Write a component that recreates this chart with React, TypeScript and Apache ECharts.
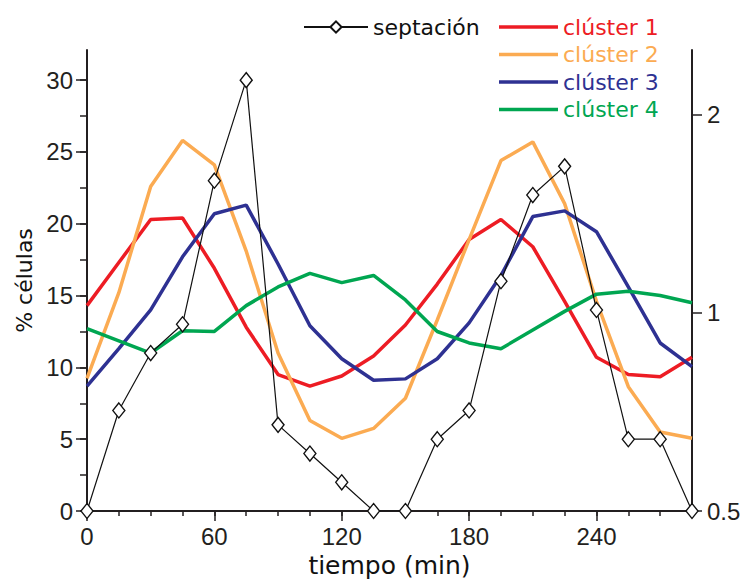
import React, { useEffect, useRef } from "react";
import * as echarts from "echarts";

// time in minutes
const times = [0, 15, 30, 45, 60, 75, 90, 105, 120, 135, 150, 165, 180, 195, 210, 225, 240, 255, 270, 285];

// % células con septación
const septacion = [0, 7, 11, 13, 23, 30, 6, 4, 2, 0, 0, 5, 7, 16, 22, 24, 14, 5, 5, 0];

// cluster profiles (read against the left axis)
const cluster1 = [14.3, 17.3, 20.3, 20.4, 16.9, 12.8, 9.5, 8.7, 9.4, 10.8, 12.95, 15.8, 18.9, 20.3, 18.4, 14.6, 10.7, 9.5, 9.35, 10.7];
const cluster2 = [9.24, 15.2, 22.6, 25.8, 24.1, 18.1, 11.0, 6.3, 5.06, 5.75, 7.85, 13.3, 18.9, 24.4, 25.7, 21.4, 14.6, 8.66, 5.5, 5.06];
const cluster3 = [8.7, 11.3, 14.0, 17.7, 20.7, 21.3, 17.2, 12.9, 10.6, 9.1, 9.2, 10.6, 13.1, 16.4, 20.5, 20.9, 19.45, 15.6, 11.7, 10.05];
const cluster4 = [12.7, 11.85, 11.0, 12.55, 12.5, 14.3, 15.6, 16.55, 15.9, 16.4, 14.7, 12.5, 11.7, 11.3, 12.6, 13.9, 15.1, 15.3, 15.0, 14.5];

const clusterNames = ["clúster 1", "clúster 2", "clúster 3", "clúster 4"];
const clusterColors = ["#ed1c24", "#fbab52", "#2e3192", "#00a651"];
const clusterValues = [cluster1, cluster2, cluster3, cluster4];

// axis ticks and labels
const timeMinorTicks = [0, 15, 30, 45, 60, 75, 90, 105, 120, 135, 150, 165, 180, 195, 210, 225, 240, 255, 270, 285];
const timeLabels = [0, 60, 120, 180, 240];
const leftMinorTicks = [0, 2.5, 5, 7.5, 10, 12.5, 15, 17.5, 20, 22.5, 25, 27.5, 30];
const leftLabels = [0, 5, 10, 15, 20, 25, 30];
const rightLabels = [0.5, 1, 2];

const AXIS_COLOR = "#231f20";
const TICK_FONT = "'Liberation Sans', Arial, sans-serif";
const TEXT_FONT = "'DejaVu Sans', Verdana, sans-serif";

export default function App() {
  const ref = useRef<HTMLDivElement>(null);

  useEffect(() => {
    const chart = echarts.init(ref.current as HTMLDivElement, null, { renderer: "svg" });

    const clusterSeries = clusterNames.map((name, k) => ({
      name,
      type: "line",
      xAxisIndex: 0,
      yAxisIndex: 0,
      data: times.map((t, i) => [t, clusterValues[k][i]]),
      symbol: "none",
      color: clusterColors[k],
      lineStyle: { color: clusterColors[k], width: 3.5 },
      itemStyle: { color: clusterColors[k] },
      z: 2 + k,
    }));

    const option: any = {
      animation: false,
      backgroundColor: "#ffffff",
      grid: { left: 87, right: 53, top: 50, bottom: 69, containLabel: false, outerBoundsMode: "none" },
      legend: [
        {
          data: [{ name: "septación", textStyle: { color: "#111111" } }],
          left: 298,
          top: 11,
          itemWidth: 64,
          itemHeight: 14,
          selectedMode: false,
          textStyle: { fontFamily: TEXT_FONT, fontSize: 22, color: "#111111" },
        },
        {
          data: clusterNames.map((n, k) => ({
            name: n,
            icon: "rect",
            itemStyle: { color: clusterColors[k] },
            textStyle: { color: clusterColors[k] },
          })),
          orient: "vertical",
          left: 494,
          top: 11,
          itemWidth: 59,
          itemHeight: 3.5,
          itemGap: 5.5,
          selectedMode: false,
          textStyle: { fontFamily: TEXT_FONT, fontSize: 22 },
        },
      ],
      xAxis: [
        {
          type: "value",
          position: "bottom",
          min: 0,
          max: 285,
          axisLine: { show: true, onZero: false, lineStyle: { color: AXIS_COLOR, width: 2 } },
          axisTick: { show: true, customValues: timeMinorTicks, length: 5, lineStyle: { color: AXIS_COLOR, width: 1.5 } },
          axisLabel: { show: false },
          splitLine: { show: false },
        },
        {
          type: "value",
          position: "bottom",
          min: 0,
          max: 285,
          axisLine: { show: false, onZero: false },
          axisTick: { show: true, customValues: timeLabels, length: 10, lineStyle: { color: AXIS_COLOR, width: 1.5 } },
          axisLabel: { show: true, customValues: timeLabels, fontFamily: TICK_FONT, fontSize: 24, color: AXIS_COLOR, margin: 13 },
          splitLine: { show: false },
          name: "tiempo (min)",
          nameLocation: "middle",
          nameGap: 40,
          nameTextStyle: { fontFamily: TEXT_FONT, fontSize: 25, color: "#111111" },
        },
      ],
      yAxis: [
        {
          type: "value",
          position: "left",
          min: 0,
          max: 32.1,
          axisLine: { show: true, onZero: false, lineStyle: { color: AXIS_COLOR, width: 2 } },
          axisTick: { show: true, customValues: leftMinorTicks, length: 7, lineStyle: { color: AXIS_COLOR, width: 1.5 } },
          axisLabel: { show: false },
          splitLine: { show: false },
        },
        {
          type: "log",
          logBase: 2,
          position: "right",
          min: 0.5,
          max: 2.51,
          axisLine: { show: true, onZero: false, lineStyle: { color: AXIS_COLOR, width: 2 } },
          axisTick: { show: true, customValues: rightLabels, length: 10, lineStyle: { color: AXIS_COLOR, width: 1.5 } },
          axisLabel: {
            show: true,
            customValues: rightLabels,
            fontFamily: TICK_FONT,
            fontSize: 24,
            color: AXIS_COLOR,
            margin: 15,
            formatter: (v: number) => String(+Number(v).toFixed(2)),
          },
          splitLine: { show: false },
          minorSplitLine: { show: false },
        },
        {
          type: "value",
          position: "left",
          min: 0,
          max: 32.1,
          axisLine: { show: false, onZero: false },
          axisTick: { show: true, customValues: leftLabels, length: 11, lineStyle: { color: AXIS_COLOR, width: 1.5 } },
          axisLabel: { show: true, customValues: leftLabels, fontFamily: TICK_FONT, fontSize: 24, color: AXIS_COLOR, margin: 14 },
          splitLine: { show: false },
          name: "% células",
          nameLocation: "middle",
          nameRotate: 90,
          nameGap: 47,
          nameTextStyle: { fontFamily: TEXT_FONT, fontSize: 22, color: "#111111" },
        },
      ],
      series: [
        ...clusterSeries,
        {
          name: "septación",
          type: "line",
          xAxisIndex: 0,
          yAxisIndex: 0,
          data: times.map((t, i) => [t, septacion[i]]),
          symbol: "diamond",
          symbolSize: [12, 15],
          showSymbol: true,
          color: "#111111",
          lineStyle: { color: "#111111", width: 1.2 },
          itemStyle: { color: "#ffffff", borderColor: "#111111", borderWidth: 1.4 },
          z: 10,
        },
      ],
    };

    chart.setOption(option);
    return () => chart.dispose();
  }, []);

  return (
    <div
      ref={ref}
      style={{ position: "fixed", left: 0, top: 0, width: 745, height: 580, background: "#fff" }}
    />
  );
}
